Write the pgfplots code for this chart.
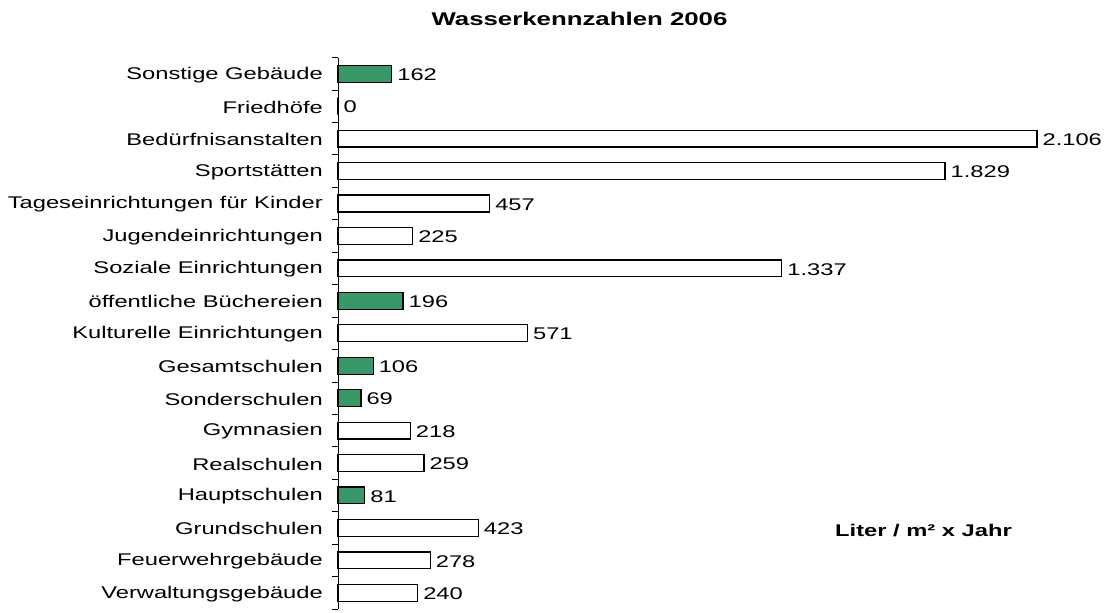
\documentclass[border=0pt]{standalone}
\usepackage{fontspec}
\setmainfont{Liberation Sans}[FakeStretch=1.4]
\usepackage{pgfplots}
\pgfplotsset{compat=1.18}
\definecolor{bargreen}{RGB}{56,152,104}
\pgfplotstableread{
y val
0 240
1 278
2 423
4 259
5 218
8 571
10 1337
11 225
12 457
13 1829
14 2106
15 0
}\whitebars
\pgfplotstableread{
y val
3 81
6 69
7 106
9 196
16 162
}\greenbars
\begin{document}
\begin{tikzpicture}
\useasboundingbox (0bp,0bp) rectangle (1110bp,-613bp);
\node[anchor=base, font=\fontsize{18.5}{22}\selectfont\bfseries] at (579.5bp,-25.7bp) {Wasserkennzahlen 2006};
\node[anchor=base, font=\fontsize{17}{20}\selectfont\bfseries] at (923.5bp,-536bp) {Liter / m² x Jahr};
\begin{axis}[
  at={(338bp,-609bp)}, anchor=south west,
  scale only axis, width=699bp, height=551.5bp,
  xmin=0, xmax=2106, ymin=-0.5, ymax=16.5,
  hide x axis,
  axis y line*=left,
  y axis line style={line width=0.8bp, -},
  xbar, bar width=0.52, bar shift=0pt,
  ytick={0,...,16},
  yticklabels={Verwaltungsgebäude,Feuerwehrgebäude,Grundschulen,Hauptschulen,Realschulen,Gymnasien,Sonderschulen,Gesamtschulen,Kulturelle Einrichtungen,öffentliche Büchereien,Soziale Einrichtungen,Jugendeinrichtungen,Tageseinrichtungen für Kinder,Sportstätten,Bedürfnisanstalten,Friedhöfe,Sonstige Gebäude},
  major tick length=0pt,
  yticklabel style={font=\fontsize{17}{20}\selectfont, anchor=east, inner sep=0pt, xshift=-15bp, yshift=-1bp},
  point meta=x,
  nodes near coords={\pgfmathprintnumber[fixed, precision=0, 1000 sep={.}, assume math mode=true]{\pgfplotspointmeta}},
  nodes near coords style={font=\fontsize{17}{20}\selectfont, anchor=west, inner sep=0pt, xshift=5bp, yshift=-1bp, text=black},
  clip=false,
]
\addplot[draw=black, fill=white, line width=1.2bp] table[x=val, y=y] {\whitebars};
\addplot[draw=black, fill=bargreen, line width=1.2bp] table[x=val, y=y] {\greenbars};
\end{axis}
\foreach \i in {0,...,17} {
  \draw[line width=0.8bp, black] ({338bp},{-609bp+\i*32.441bp}) -- ++(-6bp,0pt);
}
\end{tikzpicture}
\end{document}
